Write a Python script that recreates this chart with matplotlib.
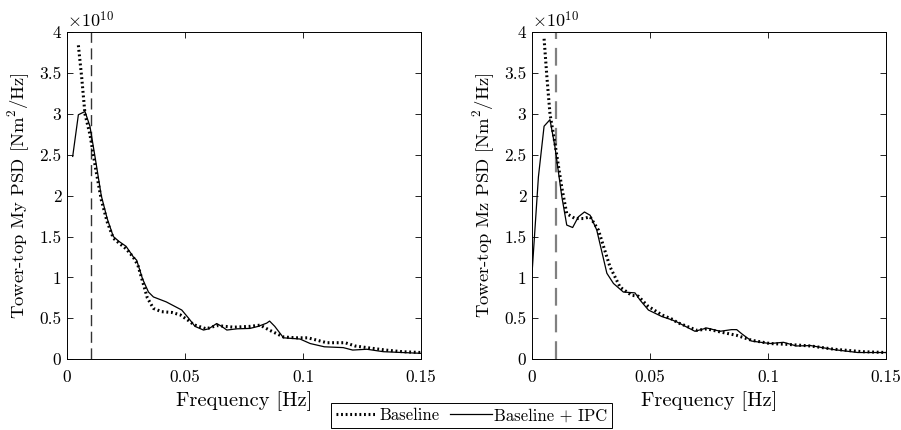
import numpy as np
import matplotlib
matplotlib.use("Agg")
import matplotlib.pyplot as plt

plt.rcParams['font.family'] = 'serif'
plt.rcParams['font.serif'] = ['cmr10']
plt.rcParams['mathtext.fontset'] = 'cm'
plt.rcParams['axes.formatter.use_mathtext'] = True
plt.rcParams['font.size'] = 13

# values in units of 1e10 Nm^2/Hz
f_my_base = [0.0048, 0.0062, 0.0076, 0.0097, 0.012, 0.0145, 0.017, 0.0196, 0.022, 0.025,
             0.028, 0.030, 0.032, 0.034, 0.0366, 0.040, 0.0445, 0.048, 0.0515, 0.0537,
             0.059, 0.0634, 0.0706, 0.0775, 0.0818, 0.086, 0.0917, 0.097, 0.102, 0.106,
             0.110, 0.1178, 0.122, 0.127, 0.135, 0.142, 0.15]
my_base = [3.84, 3.45, 3.0, 2.75, 2.35, 1.95, 1.68, 1.48, 1.42, 1.35,
           1.25, 1.15, 0.95, 0.75, 0.62, 0.58, 0.57, 0.54, 0.47, 0.42,
           0.37, 0.41, 0.39, 0.40, 0.415, 0.35, 0.27, 0.26, 0.26, 0.23,
           0.20, 0.20, 0.16, 0.14, 0.11, 0.09, 0.08]

f_my_ipc = [0.0024, 0.0048, 0.0076, 0.0097, 0.012, 0.0145, 0.017, 0.0196, 0.022, 0.025,
            0.0281, 0.0295, 0.032, 0.0345, 0.0366, 0.042, 0.0486, 0.0515, 0.0542, 0.0578,
            0.060, 0.0634, 0.0655, 0.0677, 0.072, 0.0775, 0.081, 0.0846, 0.0858, 0.088,
            0.0917, 0.0987, 0.103, 0.109, 0.117, 0.121, 0.127, 0.134, 0.142, 0.15]
my_ipc = [2.48, 2.99, 3.03, 2.85, 2.45, 2.0, 1.72, 1.50, 1.44, 1.38,
          1.25, 1.21, 0.98, 0.82, 0.76, 0.70, 0.60, 0.50, 0.40, 0.355,
          0.37, 0.435, 0.40, 0.355, 0.37, 0.375, 0.40, 0.44, 0.465, 0.40,
          0.26, 0.245, 0.19, 0.15, 0.14, 0.11, 0.12, 0.09, 0.08, 0.07]

f_mz_base = [0.0051, 0.0063, 0.0076, 0.0097, 0.0126, 0.0147, 0.0182, 0.0217, 0.0246, 0.0281,
             0.033, 0.0373, 0.0422, 0.045, 0.049, 0.055, 0.060, 0.0613, 0.070, 0.074,
             0.080, 0.0867, 0.093, 0.1008, 0.108, 0.118, 0.128, 0.14, 0.15]
mz_base = [3.92, 3.45, 3.0, 2.64, 2.1, 1.78, 1.72, 1.72, 1.74, 1.58,
           1.13, 0.88, 0.78, 0.77, 0.65, 0.54, 0.48, 0.45, 0.35, 0.37,
           0.33, 0.29, 0.23, 0.19, 0.18, 0.16, 0.12, 0.09, 0.08]

f_mz_ipc = [0.0, 0.0027, 0.0051, 0.0076, 0.0097, 0.0126, 0.0147, 0.0172, 0.0196, 0.0222,
            0.0246, 0.0274, 0.0317, 0.0345, 0.0387, 0.0436, 0.0458, 0.0493, 0.055, 0.0592,
            0.0613, 0.069, 0.074, 0.0797, 0.0845, 0.0867, 0.0888, 0.093, 0.1008, 0.1065,
            0.112, 0.118, 0.128, 0.138, 0.15]
mz_ipc = [1.05, 2.23, 2.85, 2.93, 2.6, 1.99, 1.64, 1.61, 1.74, 1.80,
          1.76, 1.58, 1.05, 0.925, 0.82, 0.81, 0.72, 0.60, 0.52, 0.48,
          0.455, 0.34, 0.38, 0.34, 0.36, 0.36, 0.31, 0.22, 0.19, 0.205,
          0.16, 0.165, 0.115, 0.08, 0.08]

f_cut = 0.01
xticks = [0, 0.05, 0.1, 0.15]
xtick_labels = ['0', '0.05', '0.1', '0.15']
yticks = [0, 0.5, 1, 1.5, 2, 2.5, 3, 3.5, 4]
ytick_labels = ['0', '0.5', '1', '1.5', '2', '2.5', '3', '3.5', '4']

fig = plt.figure(figsize=(9.01, 4.3), dpi=100)
ax1 = fig.add_axes([0.0744, 0.165, 0.393, 0.760])
ax2 = fig.add_axes([0.5905, 0.165, 0.393, 0.760])

panels = [
    (ax1, f_my_base, my_base, f_my_ipc, my_ipc, 'Tower-top My PSD [Nm$^2$/Hz]', '#333333', 1.0),
    (ax2, f_mz_base, mz_base, f_mz_ipc, mz_ipc, 'Tower-top Mz PSD [Nm$^2$/Hz]', '#808080', 1.6),
]

for ax, fb, yb, fi, yi, ylab, dcol, dlw in panels:
    ax.axvline(f_cut, color=dcol, lw=dlw, linestyle=(0, (8, 4)), zorder=1)
    lb, = ax.plot(fb, yb, color='black', lw=2.2, linestyle=(0, (0.6, 0.9)),
                  label='Baseline', zorder=3)
    li, = ax.plot(fi, yi, color='black', lw=0.9, label='Baseline + IPC', zorder=2)
    ax.set_xlim(0, 0.15)
    ax.set_ylim(0, 4)
    ax.set_xticks(xticks)
    ax.set_xticklabels(xtick_labels)
    ax.set_yticks(yticks)
    ax.set_yticklabels(ytick_labels)
    ax.tick_params(direction='in', top=True, right=True, length=4, width=0.6,
                   labelsize=12.5)
    ax.tick_params(axis='x', pad=8)
    ax.tick_params(axis='y', pad=4)
    for sp in ax.spines.values():
        sp.set_linewidth(0.7)
    ax.set_xlabel('Frequency [Hz]', fontsize=14.8, labelpad=4)
    ax.set_ylabel(ylab, fontsize=13.4, labelpad=5)
    ax.text(0.0, 1.005, r'$\times10^{10}$', transform=ax.transAxes, fontsize=13,
            ha='left', va='bottom')

leg = fig.legend([lb, li], ['Baseline', 'Baseline + IPC'], ncol=2,
                 loc='upper center', bbox_to_anchor=(0.5233, 0.0628),
                 frameon=True, fancybox=False, edgecolor='black', framealpha=1,
                 fontsize=12, handlelength=2.5, handletextpad=0.15,
                 columnspacing=0.6, borderpad=0.3, borderaxespad=0)
leg.get_frame().set_linewidth(0.7)

fig.savefig('out.png', dpi=100)
